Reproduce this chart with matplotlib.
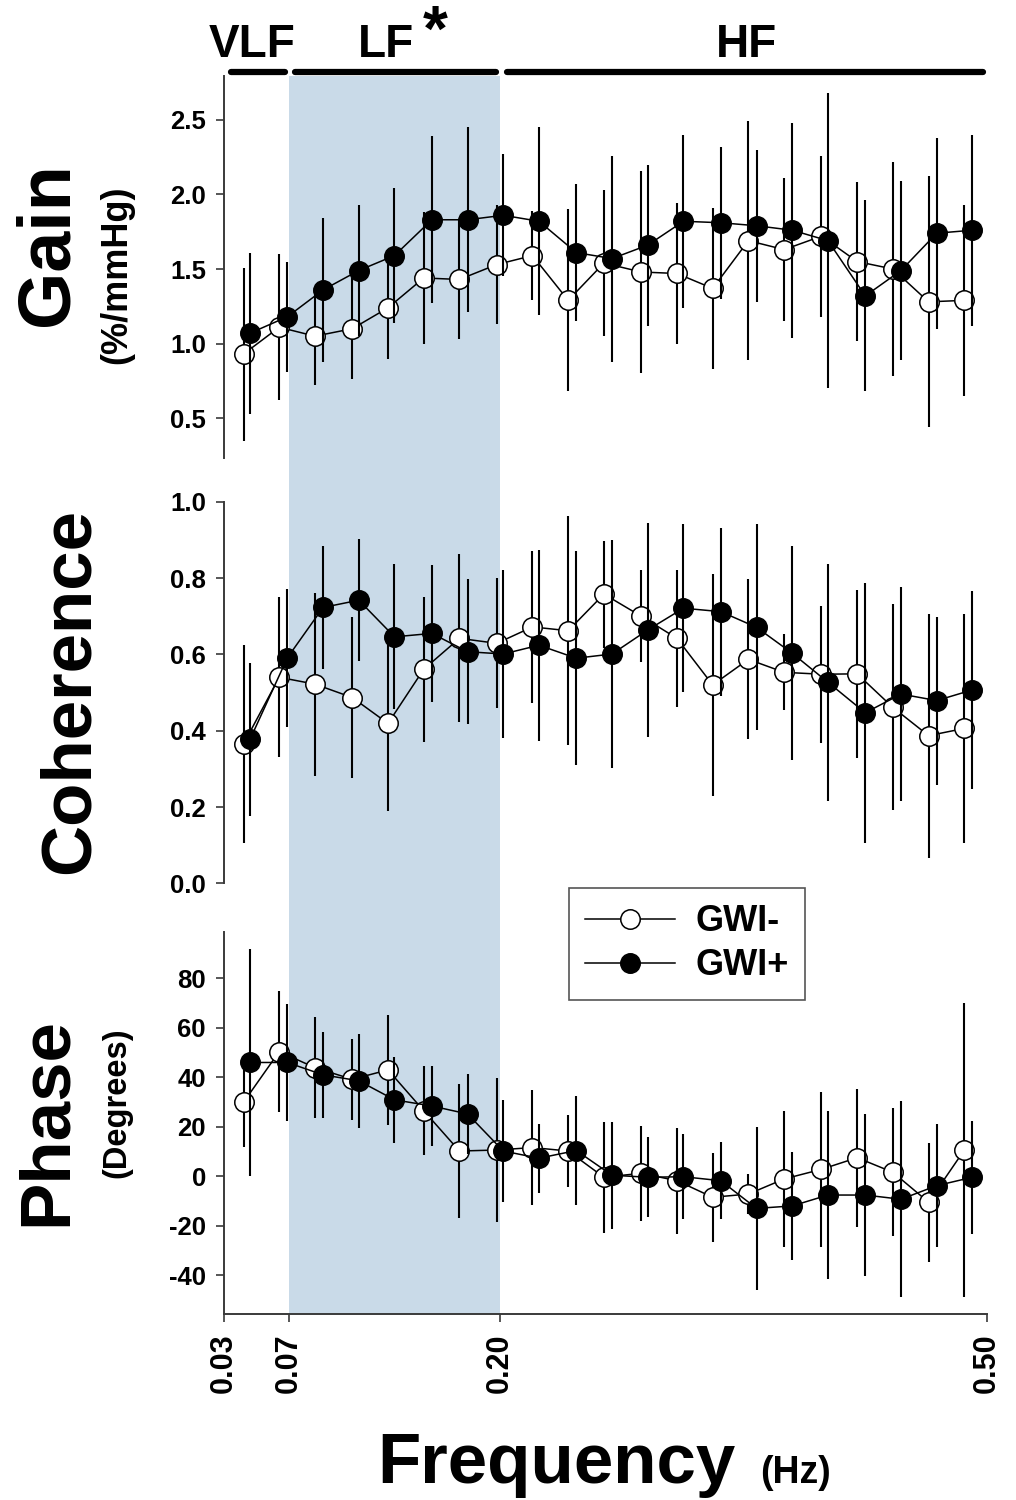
import numpy as np
import matplotlib
matplotlib.use('Agg')
import matplotlib.pyplot as plt

plt.rcParams['font.family'] = ['Liberation Sans', 'DejaVu Sans']
plt.rcParams['font.weight'] = 'bold'

# frequency of each bin (Hz); GWI+ drawn slightly right of GWI-
freq_neg = [0.042, 0.064, 0.086, 0.109, 0.131, 0.153, 0.175, 0.198, 0.220, 0.242, 0.264,
            0.287, 0.309, 0.331, 0.353, 0.375, 0.398, 0.420, 0.442, 0.464, 0.486]
freq_pos = [0.046, 0.069, 0.091, 0.113, 0.135, 0.158, 0.180, 0.202, 0.224, 0.247, 0.269,
            0.291, 0.313, 0.336, 0.358, 0.380, 0.402, 0.425, 0.447, 0.469, 0.491]

gain_neg = [0.93, 1.11, 1.05, 1.10, 1.24, 1.44, 1.43, 1.53, 1.59, 1.29, 1.54,
            1.48, 1.47, 1.37, 1.69, 1.63, 1.72, 1.55, 1.50, 1.28, 1.29]
gain_neg_err = [0.58, 0.49, 0.33, 0.34, 0.34, 0.44, 0.40, 0.40, 0.30, 0.61, 0.49,
                0.68, 0.47, 0.54, 0.80, 0.48, 0.54, 0.53, 0.72, 0.84, 0.64]
gain_pos = [1.07, 1.18, 1.36, 1.49, 1.59, 1.83, 1.83, 1.86, 1.82, 1.61, 1.57,
            1.66, 1.82, 1.81, 1.79, 1.76, 1.69, 1.32, 1.49, 1.74, 1.76]
gain_pos_err = [0.54, 0.37, 0.48, 0.44, 0.45, 0.56, 0.62, 0.41, 0.63, 0.46, 0.69,
                0.54, 0.58, 0.51, 0.51, 0.72, 0.99, 0.64, 0.60, 0.64, 0.64]

coh_neg = [0.365, 0.540, 0.522, 0.487, 0.419, 0.561, 0.642, 0.629, 0.672, 0.662, 0.758,
           0.700, 0.642, 0.520, 0.587, 0.553, 0.548, 0.549, 0.461, 0.387, 0.406]
coh_neg_err = [0.26, 0.21, 0.24, 0.21, 0.23, 0.19, 0.22, 0.17, 0.20, 0.30, 0.14,
               0.12, 0.18, 0.29, 0.21, 0.10, 0.18, 0.22, 0.27, 0.32, 0.30]
coh_pos = [0.377, 0.591, 0.723, 0.742, 0.646, 0.655, 0.607, 0.601, 0.624, 0.590, 0.601,
           0.664, 0.721, 0.712, 0.671, 0.603, 0.527, 0.447, 0.496, 0.479, 0.507]
coh_pos_err = [0.20, 0.18, 0.16, 0.16, 0.19, 0.18, 0.19, 0.22, 0.25, 0.28, 0.30,
               0.28, 0.22, 0.22, 0.27, 0.28, 0.31, 0.34, 0.28, 0.22, 0.26]

phase_neg = [29.9, 50.4, 43.9, 39.2, 43.0, 26.5, 10.2, 10.6, 11.6, 10.2, -0.4,
             1.2, -1.8, -8.5, -7.2, -1.1, 2.8, 7.5, 1.6, -10.5, 10.6]
phase_neg_err = [18.2, 24.5, 20.3, 16.4, 22.2, 18.1, 27.0, 29.1, 23.1, 14.4, 22.5,
                 19.1, 21.4, 17.9, 8.0, 27.6, 31.3, 27.9, 25.8, 24.0, 59.3]
phase_pos = [46.0, 46.0, 41.0, 38.6, 30.9, 28.4, 25.2, 10.2, 7.3, 10.4, 0.4,
             -0.4, -0.2, -1.8, -13.0, -12.0, -7.6, -7.6, -9.3, -3.8, -0.4]
phase_pos_err = [46.0, 23.7, 17.4, 18.9, 17.5, 16.3, 16.2, 20.6, 13.9, 21.9, 21.6,
                 16.2, 17.2, 15.6, 33.1, 21.8, 34.0, 32.6, 39.6, 25.0, 22.9]

bands = [('VLF', 0.03, 0.07), ('LF', 0.07, 0.20), ('HF', 0.20, 0.50)]
xticks = [0.03, 0.07, 0.20, 0.50]
xlim = (0.03, 0.50)

spine_col = '#3a3a3a'
shade_col = '#c9dae8'

fig = plt.figure(figsize=(10.16, 15), dpi=100)

L, R = 0.2205, 0.9715
W = R - L
# [bottom, top] in figure fraction
pos_gain = (0.6945, 0.9493)
pos_coh = (0.4111, 0.6655)
pos_ph = (0.1240, 0.3789)

# background axes for the LF shading
bg = fig.add_axes([L, pos_ph[0], W, pos_gain[1] - pos_ph[0]], zorder=0)
bg.set_xlim(xlim)
bg.axvspan(0.07, 0.20, color=shade_col, lw=0)
bg.axis('off')

ax_g = fig.add_axes([L, pos_gain[0], W, pos_gain[1] - pos_gain[0]], zorder=1)
ax_c = fig.add_axes([L, pos_coh[0], W, pos_coh[1] - pos_coh[0]], zorder=1)
ax_p = fig.add_axes([L, pos_ph[0], W, pos_ph[1] - pos_ph[0]], zorder=1)


def draw_panel(ax, yn, en, yp, ep):
    ax.errorbar(freq_neg, yn, yerr=en, fmt='none', ecolor='black', elinewidth=1.5, zorder=3)
    h1, = ax.plot(freq_neg, yn, '-o', color='black', lw=1.1, ms=14, mfc='white',
                  mec='black', mew=1.1, zorder=3.5)
    ax.errorbar(freq_pos, yp, yerr=ep, fmt='none', ecolor='black', elinewidth=1.5, zorder=4)
    h2, = ax.plot(freq_pos, yp, '-o', color='black', lw=1.1, ms=14, mfc='black',
                  mec='black', mew=1.1, zorder=4.5)
    ax.set_facecolor('none')
    ax.set_xlim(xlim)
    for s in ['top', 'right', 'bottom']:
        ax.spines[s].set_visible(False)
    ax.spines['left'].set_color(spine_col)
    ax.spines['left'].set_linewidth(1.4)
    ax.tick_params(axis='y', direction='out', length=6, width=1.2, color=spine_col,
                   labelsize=18.5, pad=7)
    ax.tick_params(axis='x', bottom=False, labelbottom=False)
    return h1, h2


draw_panel(ax_g, gain_neg, gain_neg_err, gain_pos, gain_pos_err)
ax_g.set_ylim(0.232, 2.793)
ax_g.set_yticks([0.5, 1.0, 1.5, 2.0, 2.5])
ax_g.set_yticklabels(['0.5', '1.0', '1.5', '2.0', '2.5'], fontweight='bold')

draw_panel(ax_c, coh_neg, coh_neg_err, coh_pos, coh_pos_err)
ax_c.set_ylim(0, 1.0)
ax_c.set_yticks([0.0, 0.2, 0.4, 0.6, 0.8, 1.0])
ax_c.set_yticklabels(['0.0', '0.2', '0.4', '0.6', '0.8', '1.0'], fontweight='bold')

h1, h2 = draw_panel(ax_p, phase_neg, phase_neg_err, phase_pos, phase_pos_err)
ax_p.set_ylim(-55.7, 98.9)
ax_p.set_yticks([-40, -20, 0, 20, 40, 60, 80])
ax_p.set_yticklabels(['-40', '-20', '0', '20', '40', '60', '80'], fontweight='bold')
ax_p.spines['bottom'].set_visible(True)
ax_p.spines['bottom'].set_color(spine_col)
ax_p.spines['bottom'].set_linewidth(1.4)
ax_p.tick_params(axis='x', bottom=True, labelbottom=True, direction='out', length=6,
                 width=1.2, color=spine_col, labelsize=22, pad=8)
ax_p.set_xticks(xticks)
ax_p.set_xticklabels(['%.2f' % v for v in xticks], rotation=90, fontweight='bold')

# band bars and labels across the top
xt = ax_g.get_xaxis_transform()
for name, a, b in bands:
    ax_g.plot([a + 0.004, b - 0.0025], [1.01, 1.01], transform=xt,
              color='black', lw=4.5, solid_capstyle='round', clip_on=False)
ax_g.text(0.047, 1.05, 'VLF', transform=xt, ha='center', va='baseline', fontsize=33,
          fontweight='bold')
ax_g.text(0.130, 1.05, 'LF', transform=xt, ha='center', va='baseline', fontsize=33,
          fontweight='bold')
ax_g.text(0.160, 1.19, '*', transform=xt, ha='center', va='top', fontsize=46,
          fontweight='bold')
ax_g.text(0.352, 1.05, 'HF', transform=xt, ha='center', va='baseline', fontsize=33,
          fontweight='bold')

# axis titles
fig.text(0.047, 0.837, 'Gain', rotation=90, ha='center', va='center', fontsize=53,
         fontweight='bold')
fig.text(0.115, 0.817, '(%/mmHg)', rotation=90, ha='center', va='center', fontsize=26,
         fontweight='bold')
fig.text(0.070, 0.539, 'Coherence', rotation=90, ha='center', va='center', fontsize=51,
         fontweight='bold')
fig.text(0.047, 0.252, 'Phase', rotation=90, ha='center', va='center', fontsize=51,
         fontweight='bold')
fig.text(0.115, 0.2647, '(Degrees)', rotation=90, ha='center', va='center', fontsize=23.5,
         fontweight='bold')
fig.text(0.548, 0.0113, 'Frequency', ha='center', va='baseline', fontsize=51,
         fontweight='bold')
fig.text(0.748, 0.0113, '(Hz)', ha='left', va='baseline', fontsize=27, fontweight='bold')

leg = fig.legend([h1, h2], ['GWI-', 'GWI+'], loc='center', bbox_to_anchor=(0.676, 0.3707),
                 numpoints=1, handlelength=2.5, handletextpad=0.55, borderpad=0.45,
                 labelspacing=0.25, fancybox=False, framealpha=1, edgecolor='#555555',
                 prop={'size': 26, 'weight': 'bold'})
leg.get_frame().set_linewidth(1.2)

fig.savefig('out.png', dpi=100)
